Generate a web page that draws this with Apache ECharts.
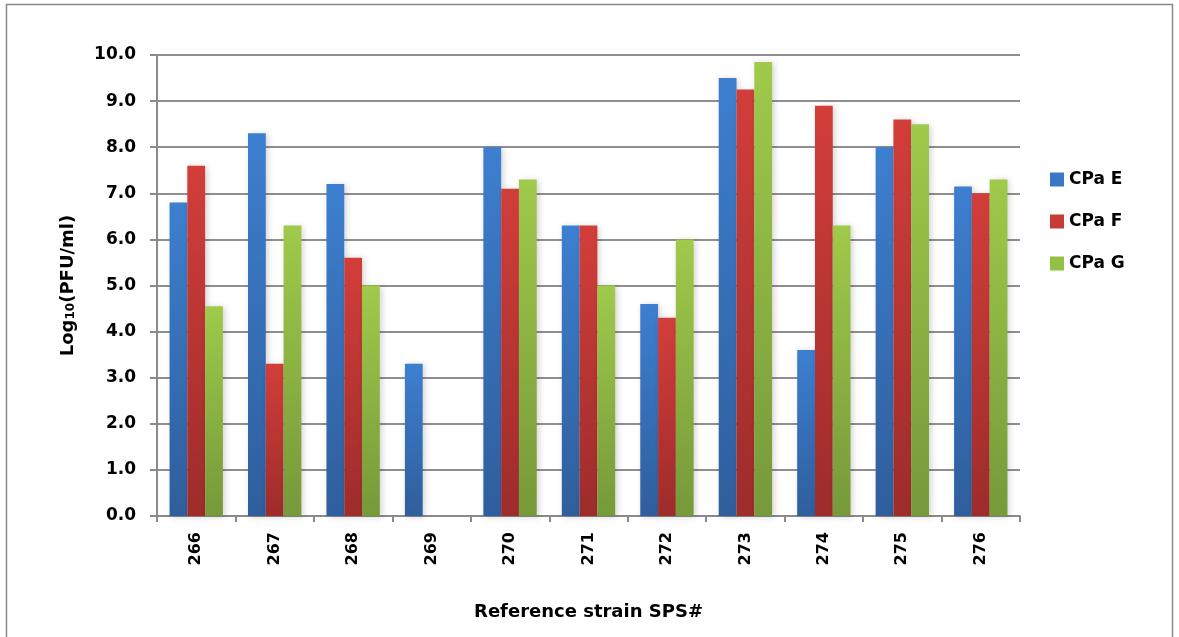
<!DOCTYPE html>
<html>
<head>
<meta charset="utf-8">
<script src="https://cdn.jsdelivr.net/npm/echarts@6/dist/echarts.min.js"></script>
<style>
  html, body { margin: 0; padding: 0; background: #fff; }
  #chart { width: 1179px; height: 637px; }
</style>
</head>
<body>
<div id="chart"></div>
<script>
// Phage titres per reference strain
const strains = ['266', '267', '268', '269', '270', '271', '272', '273', '274', '275', '276'];
const cpaE = [6.8, 8.3, 7.2, 3.3, 8.0, 6.3, 4.6, 9.5, 3.6, 8.0, 7.15];
const cpaF = [7.6, 3.3, 5.6, null, 7.1, 6.3, 4.3, 9.25, 8.9, 8.6, 7.0];
const cpaG = [4.55, 6.3, 5.0, null, 7.3, 5.0, 6.0, 9.85, 6.3, 8.5, 7.3];
const seriesNames = ['CPa E', 'CPa F', 'CPa G'];

const FONT = '"DejaVu Sans", sans-serif';

function grad(top, bottom) {
  return new echarts.graphic.LinearGradient(0, 0, 0, 1, [
    { offset: 0, color: top },
    { offset: 1, color: bottom }
  ]);
}

const fills = [
  grad('#3d7fd0', '#2f5e9c'),
  grad('#d23e3a', '#9d2c2b'),
  grad('#9fca4a', '#76993a')
];
const swatch = ['#3a78c6', '#c73b37', '#93bf45'];

function bar(name, data, i) {
  return {
    name: name,
    type: 'bar',
    data: data,
    barGap: '0%',
    barCategoryGap: '32%',
    itemStyle: {
      color: fills[i],
      shadowColor: 'rgba(0,0,0,0.18)',
      shadowBlur: 6,
      shadowOffsetX: 2,
      shadowOffsetY: 1
    }
  };
}

const chart = echarts.init(document.getElementById('chart'));
chart.setOption({
  backgroundColor: '#fff',
  animation: false,
  graphic: [{
    type: 'rect',
    shape: { x: 6.5, y: 4.5, width: 1166, height: 640 },
    style: { fill: 'none', stroke: '#8a8a8a', lineWidth: 1.5 },
    silent: true
  }],
  grid: { left: 157, right: 159, top: 55, bottom: 121 },
  legend: {
    orient: 'vertical',
    left: 1045,
    top: 166,
    itemWidth: 14,
    itemHeight: 14,
    itemGap: 25,
    icon: 'rect',
    data: seriesNames.map((n, i) => ({ name: n, itemStyle: { color: swatch[i] } })),
    textStyle: { fontFamily: FONT, fontWeight: 'bold', fontSize: 17, color: '#000' }
  },
  xAxis: {
    type: 'category',
    data: strains,
    name: 'Reference strain SPS#',
    nameLocation: 'middle',
    nameGap: 87,
    nameTextStyle: { fontFamily: FONT, fontWeight: 'bold', fontSize: 18, color: '#000' },
    axisLine: { lineStyle: { color: '#8a8a8a', width: 2 } },
    axisTick: { show: true, length: 6, lineStyle: { color: '#8a8a8a', width: 2 } },
    axisLabel: {
      rotate: 90,
      margin: 16,
      fontFamily: FONT,
      fontWeight: 'bold',
      fontSize: 16,
      color: '#000'
    }
  },
  yAxis: {
    type: 'value',
    min: 0,
    max: 10,
    interval: 1,
    name: '{a|Log}{b|10}{a|(PFU/ml)}',
    nameLocation: 'middle',
    nameGap: 80,
    nameRotate: 90,
    nameTextStyle: {
      rich: {
        a: { fontFamily: FONT, fontWeight: 'bold', fontSize: 18, color: '#000' },
        b: { fontFamily: FONT, fontWeight: 'bold', fontSize: 12, color: '#000', padding: [0, 0, -6, 0] }
      }
    },
    axisLine: { show: true, lineStyle: { color: '#8a8a8a', width: 2 } },
    axisTick: { show: true, length: 7, lineStyle: { color: '#8a8a8a', width: 2 } },
    splitLine: { lineStyle: { color: '#8f8f8f', width: 2 } },
    axisLabel: {
      margin: 21,
      fontFamily: FONT,
      fontWeight: 'bold',
      fontSize: 17,
      color: '#000',
      formatter: v => v.toFixed(1)
    }
  },
  series: [
    bar(seriesNames[0], cpaE, 0),
    bar(seriesNames[1], cpaF, 1),
    bar(seriesNames[2], cpaG, 2)
  ]
});
</script>
</body>
</html>
